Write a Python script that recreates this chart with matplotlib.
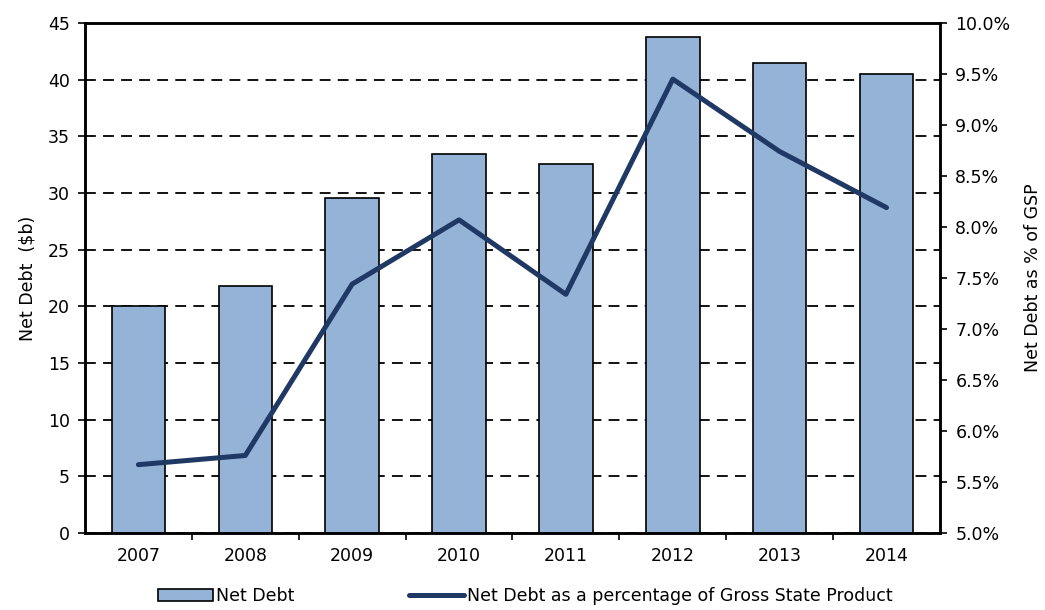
import matplotlib.pyplot as plt
import numpy as np
from matplotlib.ticker import FuncFormatter, MultipleLocator, FixedLocator

# ---------------- Data ----------------
years = ["2007", "2008", "2009", "2010", "2011", "2012", "2013", "2014"]
net_debt = [20.0, 21.8, 29.6, 33.4, 32.6, 43.8, 41.5, 40.5]          # $b
debt_pct_gsp = [5.67, 5.76, 7.44, 8.07, 7.34, 9.45, 8.74, 8.19]     # % of GSP

bar_color = "#95B3D7"
line_color = "#1F3864"

plt.rcParams["font.family"] = ["DejaVu Sans"]
plt.rcParams["font.size"] = 12.5

fig = plt.figure(figsize=(10.45, 6.1), dpi=100)
ax = fig.add_axes([0.0813, 0.1262, 0.8182, 0.8361])
x = np.arange(len(years))

bars = ax.bar(x, net_debt, 0.5, color=bar_color, edgecolor="black",
              linewidth=1.2, label="Net Debt", zorder=3)
ax.set_ylim(0, 45)
ax.set_xlim(-0.5, len(years) - 0.5)
ax.yaxis.set_major_locator(MultipleLocator(5))
ax.set_ylabel("Net Debt  ($b)", labelpad=8)
ax.grid(axis="y", color="black", linestyle=(0, (6, 4)), linewidth=1.3, zorder=1)

ax.set_xticks(x)
ax.set_xticklabels(years)
ax.tick_params(axis="x", which="major", length=0, pad=10)
ax.xaxis.set_minor_locator(FixedLocator(x[:-1] + 0.5))
ax.tick_params(axis="x", which="minor", length=5, width=1.2, direction="out")
ax.tick_params(axis="y", length=5, width=1.2, direction="out", pad=6)
for s in ax.spines.values():
    s.set_linewidth(1.8)

ax2 = ax.twinx()
line, = ax2.plot(x, debt_pct_gsp, color=line_color, linewidth=3.6,
                 solid_capstyle="round",
                 label="Net Debt as a percentage of Gross State Product", zorder=4)
ax2.set_ylim(5.0, 10.0)
ax2.yaxis.set_major_locator(MultipleLocator(0.5))
ax2.yaxis.set_major_formatter(FuncFormatter(lambda v, p: f"{v:.1f}%"))
ax2.tick_params(axis="y", length=5, width=1.2, direction="out", pad=6)
ax2.set_ylabel("Net Debt as % of GSP", labelpad=10)
for s in ax2.spines.values():
    s.set_linewidth(1.8)

fig.legend([bars, line], ["Net Debt", "Net Debt as a percentage of Gross State Product"],
           loc="lower center", bbox_to_anchor=(0.503, -0.018), ncol=2, frameon=False,
           handlelength=3.15, handletextpad=0.2, columnspacing=6.6)

fig.savefig("out.png", dpi=100)
